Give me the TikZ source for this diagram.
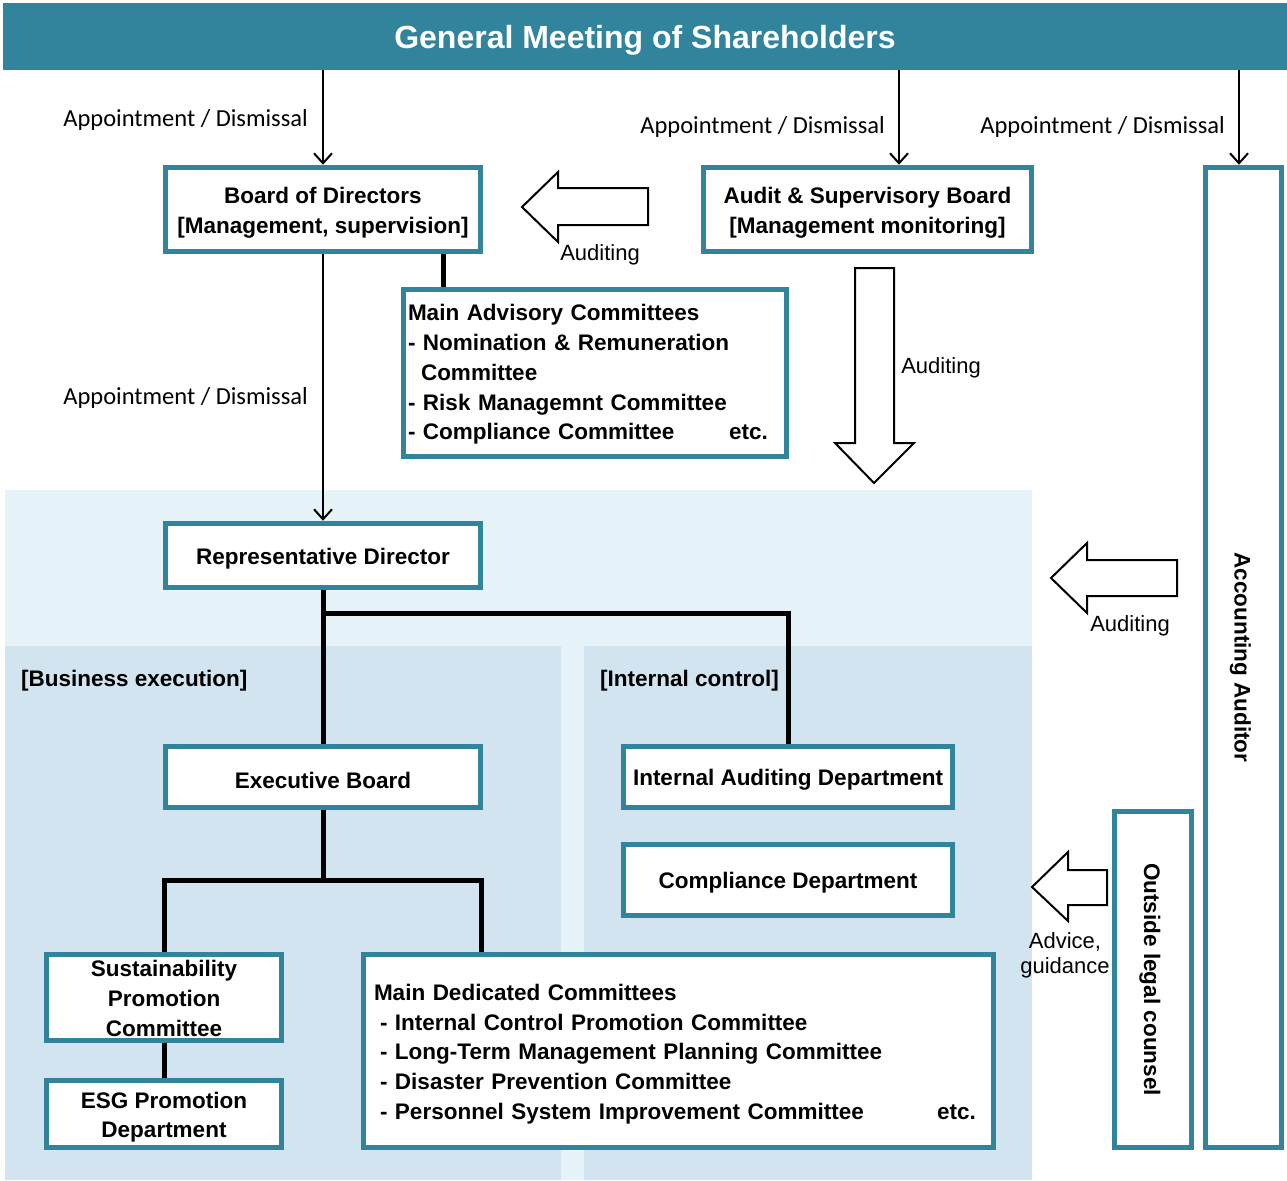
\documentclass[tikz,border=0pt]{standalone}
\usepackage{fontspec}
\setmainfont{Liberation Sans}
\newfontfamily\calfont{Carlito}
\usepackage{graphicx}
\usetikzlibrary{arrows.meta}
\definecolor{teal1}{HTML}{31849B}
\definecolor{bglight}{HTML}{E6F3F8}
\definecolor{bgdark}{HTML}{D2E4F0}
\newcommand\bxstrut{\rule{0pt}{22.5pt}}
\begin{document}
\begin{tikzpicture}[x=1pt,y=-1pt,
  box/.style={draw=teal1, line width=5.5pt, fill=white, inner sep=0pt, align=center,
    font=\bfseries\fontsize{22.5}{29.75}\selectfont},
  thinarrow/.style={draw=black, line width=2pt, -{Straight Barb[length=10pt,width=18pt]}},
  conn/.style={draw=black, line width=5pt},
  blockarrow/.style={draw=black, line width=2pt, fill=white, line join=miter},
  lab/.style={font=\calfont\fontsize{24.5}{28}\selectfont, inner sep=0pt},
  alab/.style={font=\fontsize{22}{25}\selectfont, inner sep=0pt},
  sect/.style={font=\bfseries\fontsize{22.5}{26}\selectfont, inner sep=0pt, anchor=west},
]
\useasboundingbox (0,0) rectangle (1287,1180);

% background panels
\fill[bglight] (5,490) rectangle (1032,1180);
\fill[bgdark] (5,646) rectangle (561,1180);
\fill[bgdark] (584,646) rectangle (1032,1180);

% header
\node[fill=teal1, minimum width=1284pt, minimum height=67pt, inner sep=0pt, text=white,
  font=\bfseries\fontsize{32}{36}\selectfont] (ghs) at (645,36.5) {\rule{0pt}{31.5pt}General Meeting of Shareholders};

% boxes
\node[box, minimum width=315pt, minimum height=84pt] (bod) at (323,209.5)
  {\bxstrut Board of Directors\\{}[Management, supervision]};
\node[box, minimum width=328pt, minimum height=84pt] (asb) at (867.5,209.5)
  {\bxstrut Audit \& Supervisory Board\\{}[Management monitoring]};
\node[box, minimum width=76pt, minimum height=980pt] (acc) at (1243.5,657.5)
  {\rotatebox{-90}{\bxstrut Accounting Auditor}};
\node[box, align=left, text width=374pt, inner xsep=4.5pt, minimum height=167pt] (adv) at (595,373)
  {\rule{0pt}{19.5pt}Main Advisory Committees\\
   - Nomination \& Remuneration\\
   \hspace*{13pt}Committee\\
   - Risk Managemnt Committee\\
   \makebox[\linewidth][s]{- Compliance Committee\hfill etc.\hspace*{14pt}}};
\node[box, minimum width=315pt, minimum height=64pt] (rep) at (323,555.5) {\bxstrut Representative Director};
\node[box, minimum width=315pt, minimum height=61pt] (exb) at (323,777) {\bxstrut Executive Board};
\node[box, minimum width=329pt, minimum height=61pt] (iad) at (788,777) {\bxstrut Internal Auditing Department};
\node[box, minimum width=329pt, minimum height=71pt] (cmp) at (788,880) {\bxstrut Compliance Department};
\node[box, minimum width=235pt, minimum height=86pt] (spc) at (164,997.5)
  {\rule{0pt}{18.5pt}Sustainability\\Promotion\\Committee};
\node[box, minimum width=235pt, minimum height=67pt] (esg) at (164,1114)
  {\bxstrut ESG Promotion\\Department};
\node[box, align=left, text width=609pt, inner xsep=10.5pt, minimum height=193pt] (mdc) at (678.5,1051)
  {\bxstrut Main Dedicated Committees\\
   \hspace*{6pt}- Internal Control Promotion Committee\\
   \hspace*{6pt}- Long-Term Management Planning Committee\\
   \hspace*{6pt}- Disaster Prevention Committee\\
   \makebox[\linewidth][s]{\hspace*{6pt}- Personnel System Improvement Committee\hfill etc.\hspace*{7pt}}};
\node[box, minimum width=77pt, minimum height=336pt] (olc) at (1153,979.5)
  {\rotatebox{-90}{\bxstrut Outside legal counsel}};

% block arrows
\draw[blockarrow] (522,207) -- (558,172) -- (558,188) -- (648,188) -- (648,225) -- (558,225) -- (558,242) -- cycle;
\draw[blockarrow] (874,483) -- (835,443) -- (855,443) -- (855,268) -- (894,268) -- (894,443) -- (914,443) -- cycle;
\draw[blockarrow] (1051,578) -- (1087,543) -- (1087,560) -- (1177,560) -- (1177,596) -- (1087,596) -- (1087,613) -- cycle;
\draw[blockarrow] (1032,887) -- (1068,852) -- (1068,870) -- (1107,870) -- (1107,905) -- (1068,905) -- (1068,921) -- cycle;

% thin arrows
\coordinate (a2) at ([xshift=31.5pt]asb.north);
\coordinate (a3) at ([xshift=-4.5pt]acc.north);
\draw[thinarrow] (bod.north |- ghs.south) -- (bod.north);
\draw[thinarrow] (a2 |- ghs.south) -- (a2);
\draw[thinarrow] (a3 |- ghs.south) -- (a3);
\draw[thinarrow] (bod.south) -- (rep.north);

% thick connectors
\coordinate (b1) at ([xshift=-152pt]adv.north);
\draw[conn] (b1 |- bod.south) -- (b1);
\draw[conn] (rep.south) -- (exb.north);
\draw[conn] (rep.south) ++(0,23) -| (iad.north);
\coordinate (j2) at ([yshift=-70pt]exb.south);
\coordinate (m1) at ([xshift=121pt]mdc.north west);
\draw[conn] (exb.south) -- (j2);
\draw[conn] (spc.north) |- (j2) -| (m1);
\draw[conn] (spc.south) -- (esg.north);

% labels
\node[lab, anchor=east] (l1) at (308,120) {Appointment / Dismissal};
\node[lab, anchor=east] (l2) at (885,127) {Appointment / Dismissal};
\node[lab, anchor=east] (l3) at (1225,127) {Appointment / Dismissal};
\node[lab, anchor=east] (l4) at (308,398) {Appointment / Dismissal};
\node[alab] (au1) at (600,255) {Auditing};
\node[alab] (au2) at (941,368) {Auditing};
\node[alab] (au3) at (1130,626) {Auditing};
\node[alab, align=center] (adg) at (1065,955) {Advice,\\guidance};
\node[sect] (sb) at (21,681) {[Business execution]};
\node[sect] (si) at (600,681) {[Internal control]};
\end{tikzpicture}
\end{document}
